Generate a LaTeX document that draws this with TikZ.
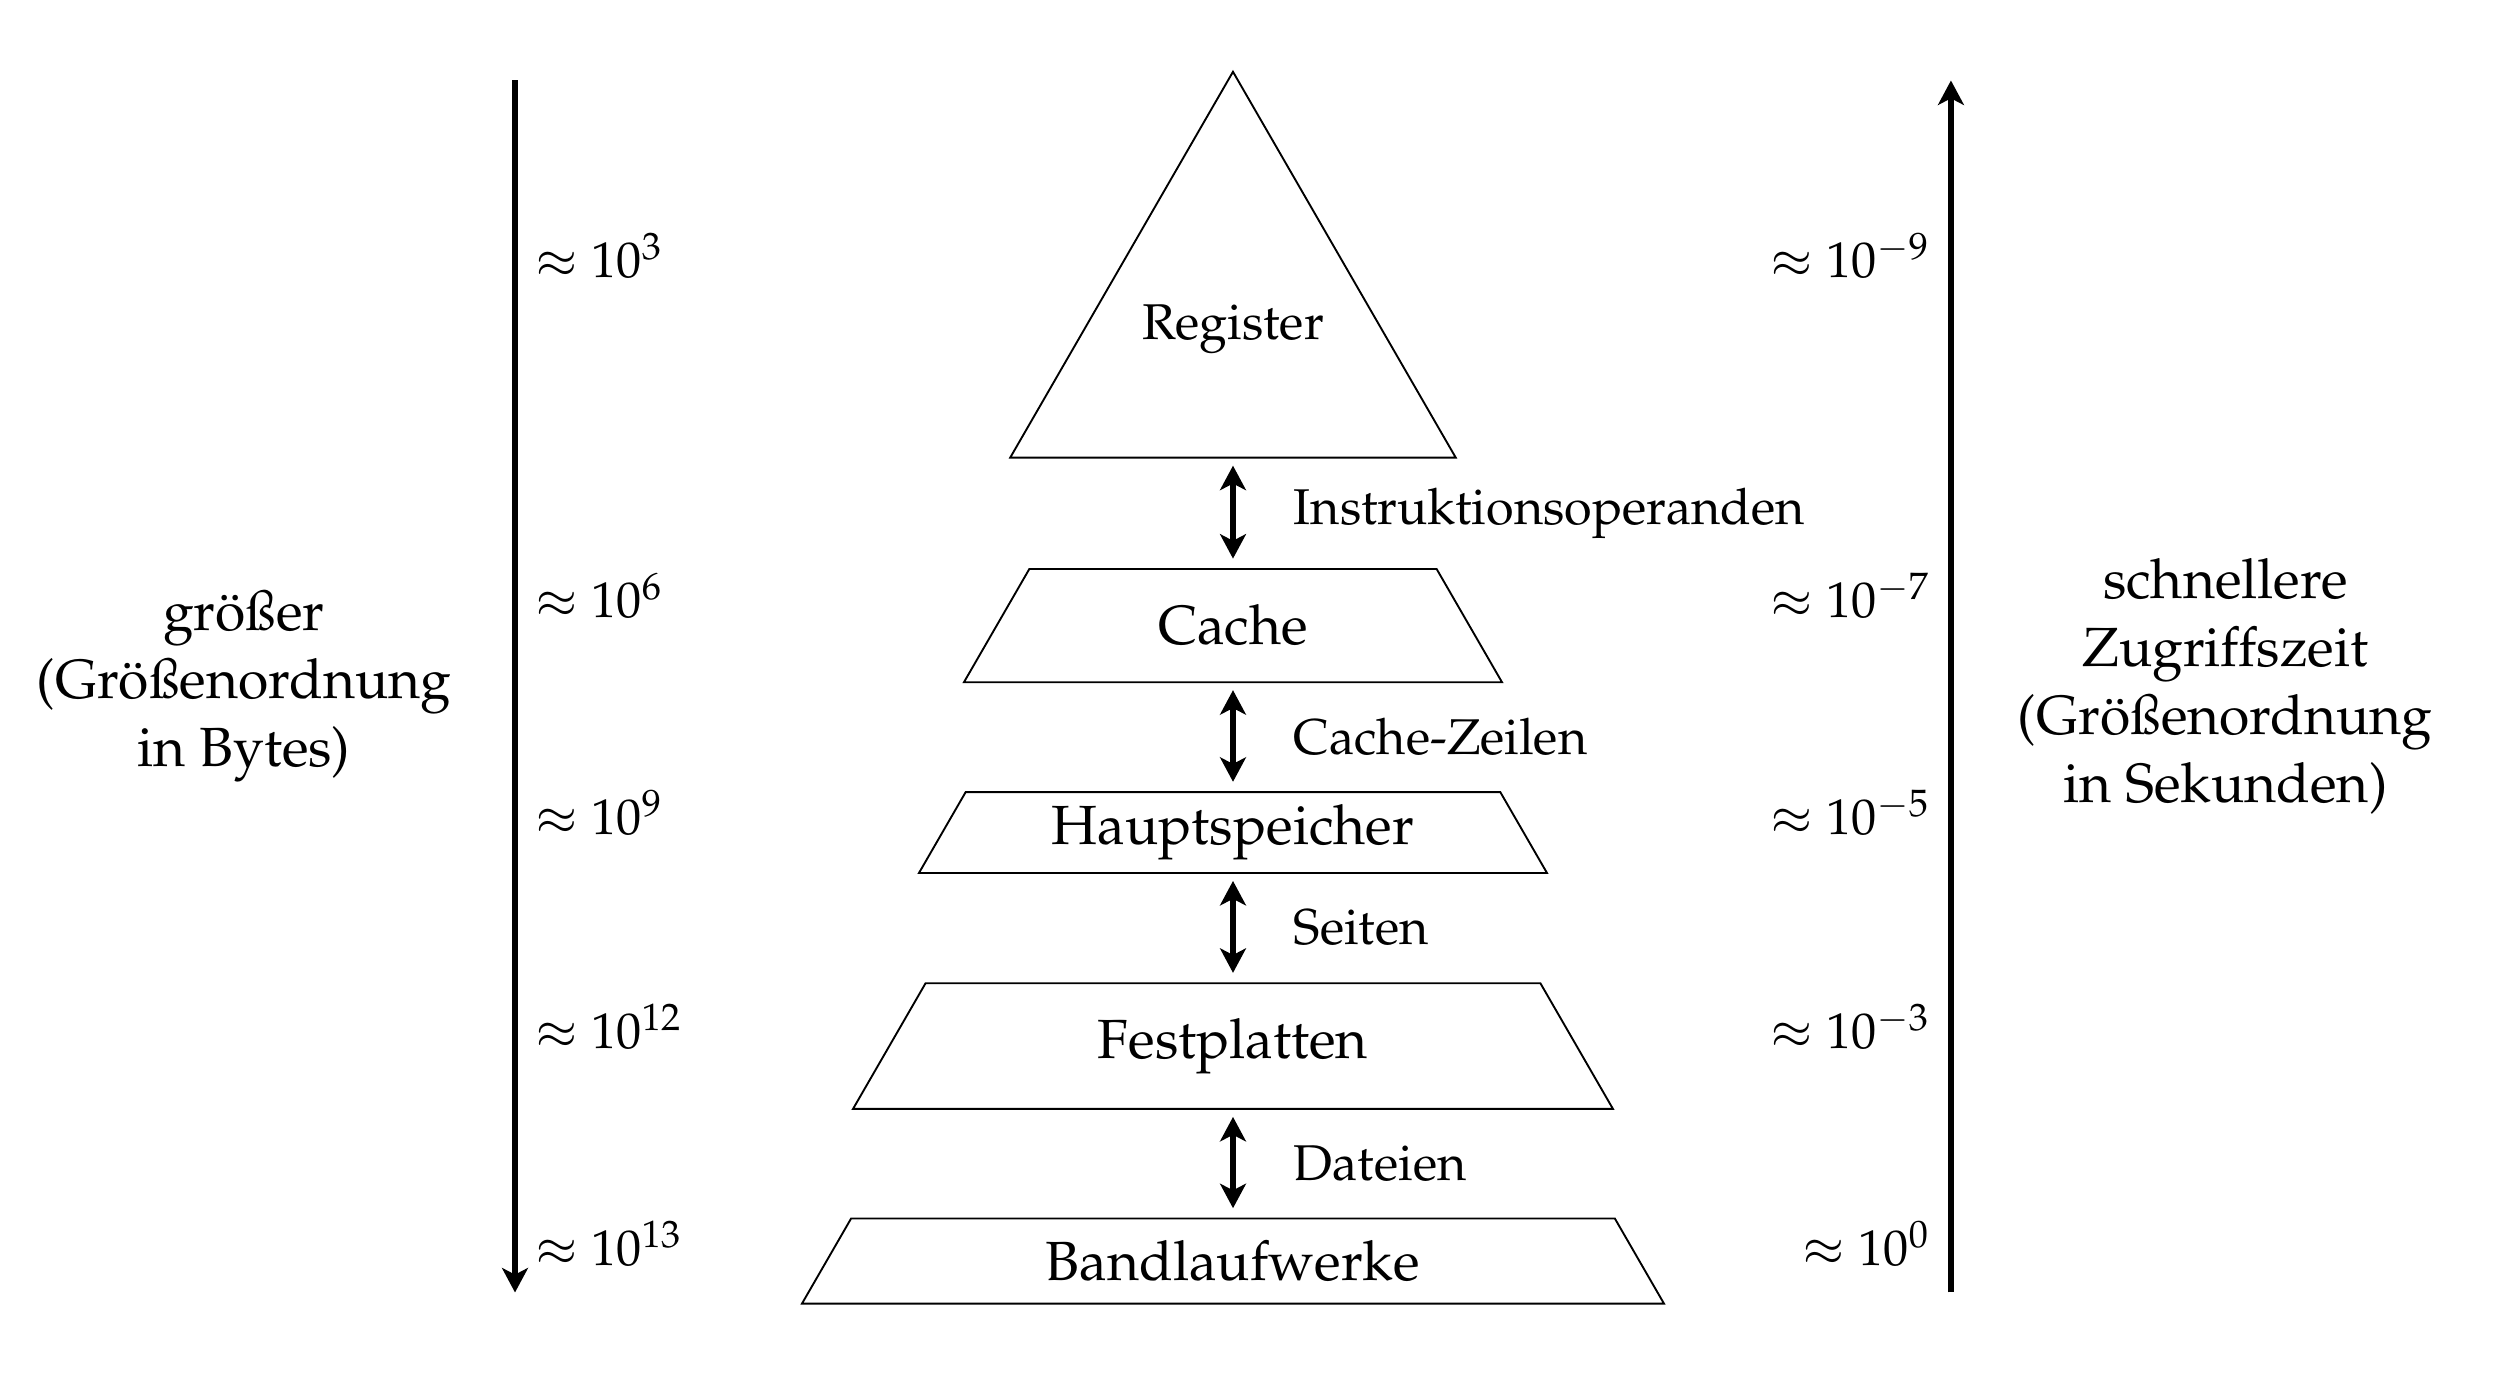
\documentclass[11pt,tikz,border=0pt]{standalone}
\usepackage[T1]{fontenc}
\usepackage{mathpazo}
\usepackage{tikz}
\usetikzlibrary{shapes.geometric, arrows.meta, positioning}

\begin{document}
\begin{tikzpicture}[font=\fontsize{10.7}{13}\selectfont, big/.style={font=\fontsize{11.75}{14.5}\selectfont}, level/.style={trapezium, draw, trapezium stretches body, big, inner xsep=0pt}, link/.style={{Stealth[length=5.2pt, width=5.5pt, inset=1.4pt]}-{Stealth[length=5.2pt, width=5.5pt, inset=1.4pt]}, very thick, shorten <=1.5pt, shorten >=2pt}, axis/.style={-{Stealth[length=5.2pt, width=5.5pt, inset=1.4pt]}, very thick}, mag/.style={inner sep=0pt}]
  \useasboundingbox (0,0) rectangle (18.654,10.307);
  % Pyramide
  \node[regular polygon, regular polygon sides=3, draw, minimum size=3.78cm, inner sep=0pt] (reg) at (9.222,7.846) {Register};
  \node[level, minimum width=4.024cm, inner ysep=7.67pt] (cache) at (9.222,5.628) {Cache};
  \node[level, minimum width=4.697cm, inner ysep=2.69pt] (haupt) at (9.222,4.080) {Hauptspeicher};
  \node[level, minimum width=5.684cm, inner ysep=7.47pt] (fest) at (9.222,2.483) {Festplatten};
  \node[level, minimum width=6.447cm, inner ysep=4.67pt] (band) at (9.222,0.875) {Bandlaufwerke};
  % Transfereinheiten
  \draw[link] (reg.south) -- (cache.north) node[midway, right=8.7pt] (l1) {Instruktionsoperanden};
  \draw[link] (cache.south) -- (haupt.north) node[midway, right=8.7pt] (l2) {Cache-Zeilen};
  \draw[link] (haupt.south) -- (fest.north) node[midway, right=8.7pt] (l3) {Seiten};
  \draw[link] (fest.south) -- (band.north) node[midway, right=8.7pt] (l4) {Dateien};
  % Achsen
  \coordinate (ltop) at (3.852,9.705);
  \coordinate (lbot) at (3.852,0.640);
  \coordinate (rtop) at (14.592,9.705);
  \coordinate (rbot) at (14.592,0.640);
  \draw[axis] (ltop) -- (lbot) node[midway, left=9.3pt, align=center, big] (sizetext) {gr\"o\ss{}er\\(Gr\"o\ss{}enordnung\\in Bytes)};
  \draw[axis] (rbot) -- (rtop) node[midway, right=10pt, align=center, big] (timetext) {schnellere\\Zugriffszeit\\(Gr\"o\ss{}enordnung\\in Sekunden)};
  \foreach \y/\s/\t [count=\i] in {8.232/3/-9, 5.689/6/-7, 4.066/9/-5, 2.466/12/-3, 0.843/13/0} {
    \node[mag, anchor=base west] (size\i) at (4.0,\y) {$\approx 10^{\s}$};
    \node[mag, anchor=base east] (time\i) at (14.444,\y) {$\approx 10^{\t}$};
  }
\end{tikzpicture}
\end{document}
